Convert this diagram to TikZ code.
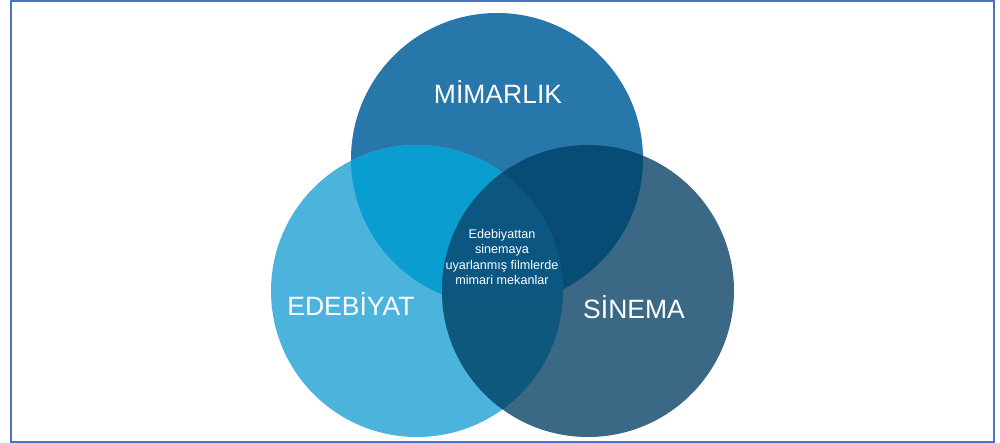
\documentclass[tikz,border=0pt]{standalone}
\usepackage{fontspec}
\newfontfamily\venfont{Liberation Sans}
\definecolor{mimcol}{HTML}{2777AB}
\definecolor{edecol}{HTML}{4BB3DC}
\definecolor{sincol}{HTML}{3B6884}
\definecolor{mimede}{HTML}{0A9DD0}
\definecolor{mimsin}{HTML}{064C74}
\definecolor{edesin}{HTML}{0E587E}
\definecolor{hepsi}{HTML}{0C5682}
\definecolor{cerceve}{HTML}{4874C8}
\begin{document}
\begin{tikzpicture}[x=1pt,y=-1pt,
    baslik/.style ={text=white, font=\venfont\fontsize{26.5}{30}\selectfont, anchor=base, inner sep=0pt},
    ortak/.style ={text=white, align=center, inner sep=0pt,
                   font=\venfont\fontsize{12.6}{15.5}\selectfont}]
   \useasboundingbox (0,0) rectangle (1000,443);
   \draw[cerceve, line width=2pt] (10.5,1) rectangle (994,441.5);

   \coordinate (M) at (497,159);
   \coordinate (E) at (417,291);
   \coordinate (S) at (588,291);

   % the three circles
   \fill[mimcol] (M) circle (146pt);
   \fill[edecol] (E) circle (146pt);
   \fill[sincol] (S) circle (146pt);

   % pairwise overlaps
   \begin{scope}
     \clip (M) circle (146pt);
     \fill[mimede] (E) circle (146pt);
     \fill[mimsin] (S) circle (146pt);
   \end{scope}
   \begin{scope}
     \clip (E) circle (146pt);
     \fill[edesin] (S) circle (146pt);
   \end{scope}
   % middle part
   \begin{scope}
     \clip (M) circle (146pt);
     \clip (E) circle (146pt);
     \fill[hepsi] (S) circle (146pt);
   \end{scope}

   \node[baslik] (mim) at (498,104) {MİMARLIK};
   \node[baslik] (ede) at (351,316) {EDEBİYAT};
   \node[baslik] (sin) at (634,318) {SİNEMA};
   \node[ortak] (film) at (502,257) {Edebiyattan\\sinemaya\\uyarlanmış filmlerde\\mimari mekanlar};
\end{tikzpicture}
\end{document}
